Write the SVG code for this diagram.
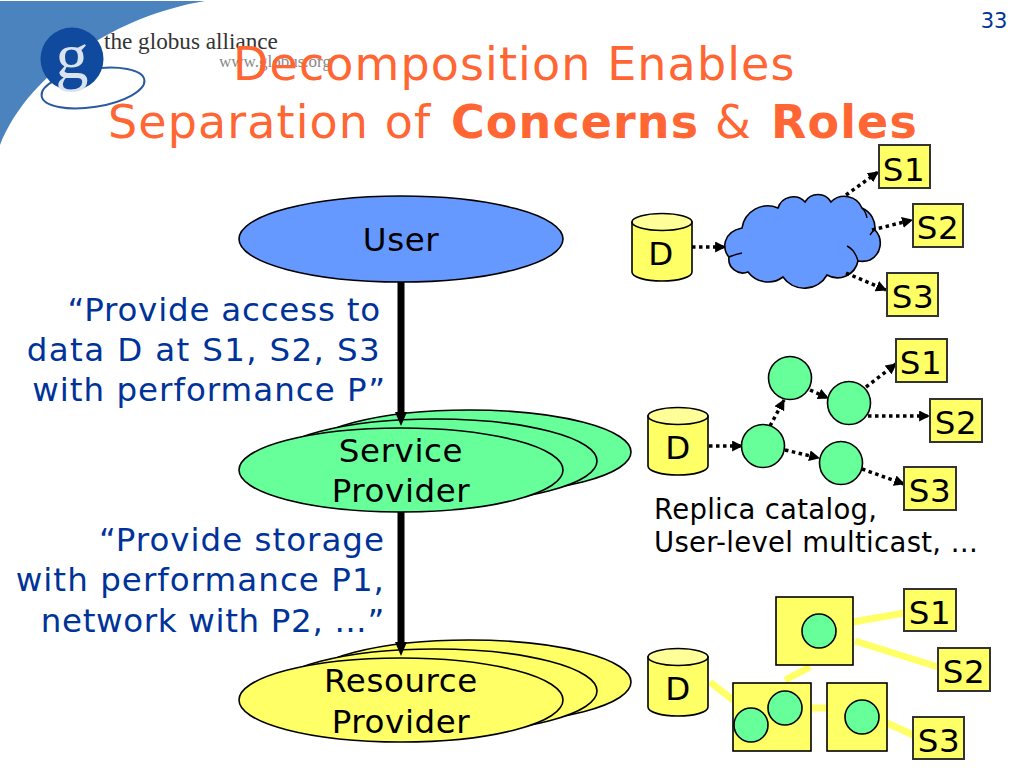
<svg xmlns="http://www.w3.org/2000/svg" width="1024" height="768" viewBox="0 0 1024 768">
<style>
text{font-family:"DejaVu Sans",Verdana,sans-serif;fill:#000}
.t{font-size:46px;fill:#ff6633;letter-spacing:1.1px}
.q{font-size:32.5px;fill:#003399;text-anchor:end;letter-spacing:.85px}
.n{font-size:32.5px;text-anchor:middle;letter-spacing:.6px}
.c{font-size:27.5px;letter-spacing:.3px}
.o{stroke:#000;stroke-width:1.6}
.g{fill:#66ff99}
.y{fill:#ffff66}
.box{fill:#ffff66;stroke:#333;stroke-width:2}
.bar{stroke:#000;stroke-width:7;fill:none}
.dot{stroke:#000;stroke-width:3.5;stroke-dasharray:3.5 3.5;fill:none;marker-end:url(#a)}
.link{stroke:#ffff66;stroke-width:7;fill:none}
</style>
<defs>
<marker id="a" viewBox="0 0 10 10" refX="9" refY="5" markerUnits="userSpaceOnUse" markerWidth="11" markerHeight="11" orient="auto"><path d="M0 0L10 5L0 10Z"/></marker>
<g id="cyl"><path class="y o" d="M0 9V59C0 64 13 68 30 68S60 64 60 59V9Z"/><ellipse cx="30" cy="9" rx="30" ry="8.5" fill="#ffff99" class="o"/></g>
</defs>
<g id="logo">
<path d="M0 1H205C120 15 30 70 0 145Z" fill="#4a83bd"/>
<ellipse cx="93" cy="88" rx="52" ry="19" transform="rotate(-9 93 88)" fill="none" stroke="#2a5a9f" stroke-width="2"/>
<circle cx="72" cy="59" r="31.5" fill="#0f4a9e"/>
<text x="72" y="78" text-anchor="middle" style="font-family:'Liberation Serif',serif;font-size:66px;fill:#d8e2f0">g</text>
<text x="104" y="49" style="font-family:'Liberation Serif',serif;font-size:23.2px;fill:#333">the globus alliance</text>
<text x="219" y="67" style="font-family:'Liberation Serif',serif;font-size:17px;fill:#888">www.globus.org</text>
</g>
<g id="title">
<text class="t" x="233" y="80">Decomposition Enables</text>
<text class="t" x="108" y="138">Separation of</text>
<text class="t" x="451" y="138" font-weight="bold">Concerns</text>
<text class="t" x="715" y="138">&amp;</text>
<text class="t" x="771" y="138" font-weight="bold">Roles</text>
</g>
<text id="page" x="994" y="28" text-anchor="middle" style="font-size:21px;fill:#003399">33</text>
<g id="user"><ellipse cx="401" cy="239" rx="162" ry="43" fill="#6699ff" class="o"/><text class="n" x="401" y="251">User</text></g>
<g id="service">
<ellipse cx="469" cy="452" rx="162" ry="42" class="g o"/>
<ellipse cx="435" cy="461" rx="162" ry="42" class="g o"/>
<ellipse cx="401" cy="470" rx="162" ry="42" class="g o"/>
<text class="n" x="401" y="462">Service</text><text class="n" x="401" y="502">Provider</text>
</g>
<g id="resource">
<ellipse cx="469" cy="682" rx="162" ry="42" class="y o"/>
<ellipse cx="435" cy="691" rx="162" ry="42" class="y o"/>
<ellipse cx="401" cy="700" rx="162" ry="42" class="y o"/>
<text class="n" x="401" y="692">Resource</text><text class="n" x="401" y="733">Provider</text>
</g>
<g id="quotes">
<text class="q" x="381" y="321" style="letter-spacing:.8px">“Provide access to</text>
<text class="q" x="381" y="361" style="letter-spacing:1.35px">data D at S1, S2, S3</text>
<text class="q" x="386" y="401" style="letter-spacing:1px">with performance P”</text>
<text class="q" x="385" y="551" style="letter-spacing:1px">“Provide storage</text>
<text class="q" x="385" y="591" style="letter-spacing:1.05px">with performance P1,</text>
<text class="q" x="385" y="632" style="letter-spacing:.65px">network with P2, …”</text>
</g>
<g id="cloud">
<path fill="#6699ff" stroke="#000" stroke-width="1.6" d="M729 257C722 250 722 232 742 228A26 26 0 0 1 778 208A16 16 0 0 1 805 202A15 15 0 0 1 831 202A19 19 0 0 1 862 208A22 22 0 0 1 875 230A19 19 0 0 1 870 260Q865 262 858 261A21 21 0 0 1 827 275A26 26 0 0 1 783 277A25 25 0 0 1 748 272A14 14 0 0 1 729 257Z"/>
<path fill="none" stroke="#000" stroke-width="1.4" d="M729 257Q736 254 742 253M847 246Q855 250 858 261M870 235Q874 229 875 230M862 208Q866 212 867 218"/>
</g>
<g id="connectors">
<path class="bar" d="M401 282V414"/><path d="M395 412H407L401 426Z"/>
<path class="bar" d="M401 512V644"/><path d="M395 642H407L401 656Z"/>
<path class="dot" d="M692 247H725"/>
<path class="dot" d="M846 195L878 172"/>
<path class="dot" d="M872 230L912 220"/>
<path class="dot" d="M846 273L886 290"/>
<path class="dot" d="M709 446H742"/>
<path class="dot" d="M770 426L784 400"/>
<path class="dot" d="M810 390L828 398"/>
<path class="dot" d="M866 387L896 364"/>
<path class="dot" d="M868 416H929"/>
<path class="dot" d="M785 450L819 458"/>
<path class="dot" d="M862 469L904 484"/>
<path class="link" d="M853 622L904 613M855 641L938 667M785 680L810 667M710 682L733 700M811 708H827M887 723L913 735"/>
</g>
<g id="d1"><use href="#cyl" x="632" y="213"/><text class="n" x="661" y="265">D</text></g>
<g id="d2"><use href="#cyl" x="648" y="407"/><text class="n" x="678" y="459">D</text></g>
<g id="d3"><use href="#cyl" x="648" y="648"/><text class="n" x="678" y="700">D</text></g>
<g id="tree">
<circle cx="790" cy="378" r="21.5" class="g o"/><circle cx="849" cy="403" r="21.5" class="g o"/><circle cx="763" cy="446" r="21.5" class="g o"/><circle cx="841" cy="463" r="21.5" class="g o"/>
</g>
<g id="hosts">
<rect x="776" y="597" width="77" height="68" class="y o"/><rect x="733" y="683" width="78" height="68" class="y o"/><rect x="827" y="683" width="60" height="68" class="y o"/>
<circle cx="819" cy="631" r="17" class="g o"/><circle cx="751" cy="725" r="17" class="g o"/><circle cx="785" cy="708" r="17" class="g o"/><circle cx="862" cy="717" r="17" class="g o"/>
</g>
<g id="s-boxes">
<rect class="box" x="879" y="145" width="51" height="43"/><text class="n" x="904" y="181">S1</text>
<rect class="box" x="913" y="204" width="50" height="43"/><text class="n" x="938" y="239">S2</text>
<rect class="box" x="887" y="273" width="51" height="43"/><text class="n" x="913" y="308">S3</text>
<rect class="box" x="896" y="339" width="51" height="43"/><text class="n" x="921" y="374">S1</text>
<rect class="box" x="930" y="399" width="52" height="43"/><text class="n" x="956" y="434">S2</text>
<rect class="box" x="904" y="467" width="52" height="43"/><text class="n" x="930" y="502">S3</text>
<rect class="box" x="904" y="589" width="52" height="42"/><text class="n" x="930" y="624">S1</text>
<rect class="box" x="938" y="648" width="52" height="43"/><text class="n" x="964" y="683">S2</text>
<rect class="box" x="913" y="717" width="51" height="42"/><text class="n" x="939" y="752">S3</text>
</g>
<g id="caption">
<text class="c" x="654" y="519">Replica catalog,</text>
<text class="c" x="654" y="552">User-level multicast, …</text>
</g>
</svg>
